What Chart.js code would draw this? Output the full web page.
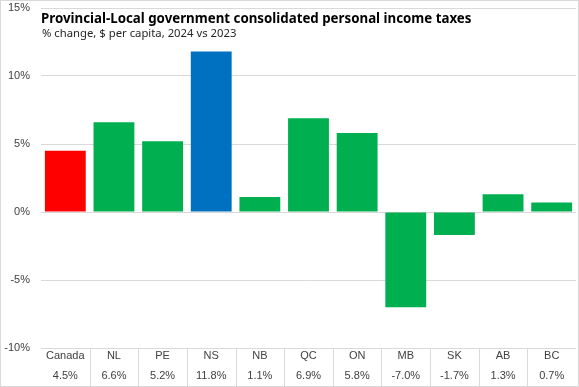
<!DOCTYPE html>
<html>
<head>
<meta charset="utf-8">
<script src="https://cdn.jsdelivr.net/npm/chart.js@4"></script>
<style>
  body { margin:0; background:#fff; }
  #caja { position:relative; width:577px; height:385px; border:1px solid #d9d9d9; }
</style>
</head>
<body>
<div id="caja"><canvas id="grafico" width="577" height="385"></canvas></div>
<script>
  let provincias = ["Canada","NL","PE","NS","NB","QC","ON","MB","SK","AB","BC"]
  let cambios = [4.5, 6.6, 5.2, 11.8, 1.1, 6.9, 5.8, -7.0, -1.7, 1.3, 0.7]
  let etiquetasValor = ["4.5%","6.6%","5.2%","11.8%","1.1%","6.9%","5.8%","-7.0%","-1.7%","1.3%","0.7%"]
  let titulo = "Provincial-Local government consolidated personal income taxes"
  let subtitulo = "% change, $ per capita, 2024 vs 2023"

  // colores: Canada rojo, NS azul, el resto verde
  let colores = provincias.map(function(p) {
    if (p == "Canada") return "#ff0000"
    if (p == "NS") return "#0070c0"
    return "#00b050"
  })

  // etiquetas de dos lineas (nombre y valor)
  let etiquetas = []
  for (var i = 0; i < provincias.length; i++) {
    etiquetas.push([provincias[i], etiquetasValor[i]])
  }

  // titulo dentro del area del grafico + separadores de la tabla de abajo
  const extras = {
    id: "extras",
    afterDraw(chart) {
      const c = chart.ctx
      const area = chart.chartArea
      const x = chart.scales.x
      c.save()
      c.strokeStyle = "#d9d9d9"
      c.lineWidth = 1
      for (var i = 1; i < provincias.length; i++) {
        var px = Math.round((x.getPixelForValue(i - 1) + x.getPixelForValue(i)) / 2) + 0.5
        c.beginPath()
        c.moveTo(px, area.bottom)
        c.lineTo(px, chart.height)
        c.stroke()
      }
      c.fillStyle = "#000"
      c.textBaseline = "alphabetic"
      c.font = "bold 13.3px 'Noto Sans'"
      c.fillText(titulo, area.left, 22)
      c.fillStyle = "#262626"
      c.font = "11.3px 'Noto Sans'"
      c.fillText(subtitulo, area.left + 1, 36)
      c.restore()
    }
  }

  var ctx = document.getElementById("grafico").getContext("2d")
  var grafico = new Chart(ctx, {
    type: "bar",
    data: {
      labels: etiquetas,
      datasets: [{
        data: cambios,
        backgroundColor: colores,
        barPercentage: 0.84,
        categoryPercentage: 1
      }]
    },
    options: {
      responsive: false,
      animation: false,
      layout: { padding: { top: 7, right: 2, left: 0, bottom: 0 } },
      plugins: {
        legend: { display: false },
        tooltip: { enabled: false }
      },
      scales: {
        x: {
          grid: { display: false, drawTicks: false },
          border: { display: false },
          ticks: {
            color: "#404040",
            font: { family: "'Liberation Sans', Arial", size: 11, lineHeight: "20px" },
            padding: -2,
            maxRotation: 0,
            autoSkip: false
          },
          afterFit: function(s) { s.height = 38; s.paddingLeft = 0; s.paddingRight = 0 }
        },
        y: {
          min: -10,
          max: 15,
          grid: { color: "#d9d9d9", drawTicks: false },
          border: { display: false },
          ticks: {
            stepSize: 5,
            padding: 11,
            color: "#404040",
            font: { family: "'Liberation Sans', Arial", size: 11 },
            callback: function(v) { return v + "%" }
          },
          afterFit: function(s) { s.width = 40; s.paddingTop = 0; s.paddingBottom = 0 }
        }
      }
    },
    plugins: [extras]
  })
</script>
</body>
</html>
